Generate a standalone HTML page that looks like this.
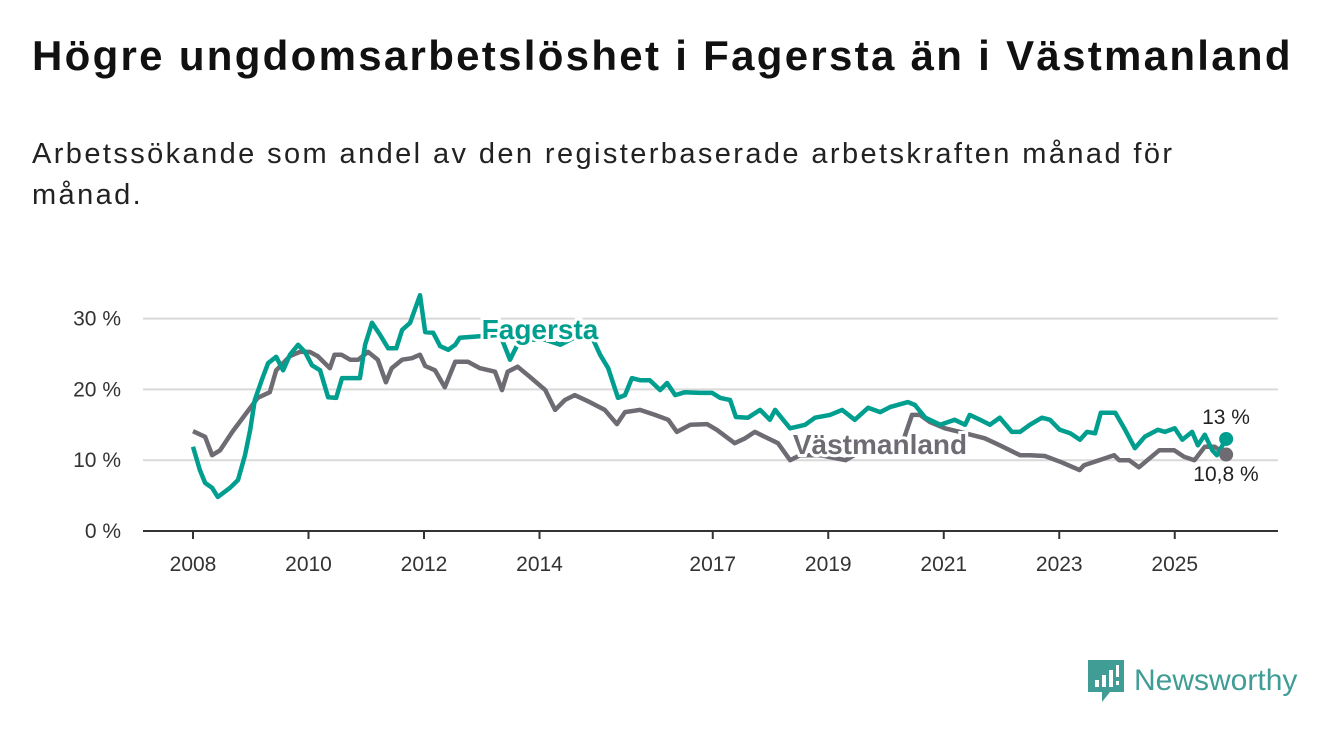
<!DOCTYPE html>
<html><head><meta charset="utf-8">
<style>
body{margin:0;width:1340px;height:734px;background:#fff;font-family:"Liberation Sans",sans-serif;overflow:hidden;position:relative}
h1{position:absolute;left:32px;top:32px;margin:0;font-size:42px;letter-spacing:2.3px;font-weight:bold;color:#111;white-space:nowrap}
p.sub{position:absolute;left:32px;top:134px;margin:0;font-size:29px;letter-spacing:2.4px;line-height:41px;color:#222;width:1200px}
svg{position:absolute;left:0;top:0}
.logo{position:absolute;left:1088px;top:660px;display:flex;align-items:center}
.logo span{font-size:30px;color:#3f9d95;margin-left:10px}
</style></head><body>
<h1>Högre ungdomsarbetslöshet i Fagersta än i Västmanland</h1>
<p class="sub">Arbetssökande som andel av den registerbaserade arbetskraften månad för månad.</p>
<svg id="chart" width="1340" height="734"></svg>
<div class="logo">
<svg width="36" height="42" style="position:static"><path d="M0 0H36V32H22L14 42V32H0Z" fill="#3f9d95"/><rect x="7" y="20" width="4" height="7" fill="#fff"/><rect x="14" y="15" width="4" height="12" fill="#fff"/><rect x="21" y="10" width="4" height="17" fill="#fff"/><rect x="28" y="5" width="3" height="12" fill="#fff"/><rect x="28" y="21" width="3" height="4" fill="#fff"/></svg>
<span>Newsworthy</span></div>
<script>
const yTicks=[0,10,20,30];
const xTicks=[2008,2010,2012,2014,2017,2019,2021,2023,2025];
const fagYears=[2008.00,2008.12,2008.21,2008.33,2008.43,2008.64,2008.78,2008.90,2008.99,2009.07,2009.19,2009.30,2009.44,2009.56,2009.68,2009.82,2009.94,2010.06,2010.20,2010.34,2010.48,2010.58,2010.72,2010.89,2010.98,2011.10,2011.24,2011.38,2011.52,2011.62,2011.76,2011.93,2012.02,2012.16,2012.28,2012.42,2012.54,2012.62,2012.97,2013.32,2013.49,2013.66,2014.10,2014.36,2014.70,2014.87,2015.05,2015.19,2015.36,2015.48,2015.60,2015.74,2015.91,2016.09,2016.21,2016.35,2016.52,2016.78,2016.99,2017.13,2017.30,2017.40,2017.61,2017.82,2017.99,2018.08,2018.34,2018.60,2018.77,2019.03,2019.24,2019.46,2019.69,2019.90,2020.07,2020.38,2020.50,2020.68,2020.94,2021.19,2021.37,2021.45,2021.63,2021.80,2021.97,2022.18,2022.32,2022.49,2022.70,2022.84,2023.01,2023.19,2023.36,2023.48,2023.62,2023.72,2023.97,2024.14,2024.31,2024.48,2024.71,2024.83,2025.00,2025.13,2025.30,2025.40,2025.52,2025.65,2025.73,2025.89];
const fagValues=[11.9,8.6,6.8,6.1,4.8,6.1,7.2,10.7,14.3,18.5,21.3,23.7,24.6,22.7,24.9,26.3,25.3,23.4,22.7,18.9,18.8,21.6,21.6,21.6,26.3,29.4,27.7,25.8,25.8,28.4,29.4,33.3,28.1,28.0,26.1,25.6,26.3,27.3,27.5,27.7,24.2,27.0,27.0,26.3,27.7,28.1,24.9,23.0,18.8,19.2,21.6,21.3,21.3,19.9,20.9,19.2,19.6,19.5,19.5,18.8,18.5,16.1,16.0,17.1,15.7,17.1,14.5,15.0,16.0,16.4,17.1,15.7,17.4,16.8,17.5,18.2,17.8,16.0,15.0,15.7,15.0,16.4,15.7,15.0,16.0,14.0,14.0,15.0,16.0,15.7,14.3,13.8,12.9,14.0,13.8,16.7,16.7,14.3,11.7,13.3,14.3,14.0,14.5,12.9,14.0,12.1,13.6,11.4,10.7,13.0];
const vasYears=[2008.00,2008.21,2008.33,2008.47,2008.68,2008.90,2009.12,2009.33,2009.44,2009.68,2009.85,2010.02,2010.16,2010.37,2010.45,2010.57,2010.72,2010.86,2011.03,2011.20,2011.34,2011.44,2011.62,2011.79,2011.93,2012.02,2012.19,2012.36,2012.54,2012.76,2012.97,2013.23,2013.35,2013.45,2013.62,2013.83,2014.10,2014.27,2014.44,2014.61,2014.87,2015.13,2015.34,2015.48,2015.74,2016.00,2016.23,2016.38,2016.61,2016.90,2017.07,2017.38,2017.56,2017.73,2017.90,2018.13,2018.34,2018.51,2018.86,2019.30,2019.55,2020.24,2020.45,2020.59,2020.76,2021.02,2021.28,2021.71,2021.97,2022.32,2022.49,2022.75,2023.04,2023.35,2023.43,2023.69,2023.95,2024.04,2024.21,2024.38,2024.73,2024.99,2025.16,2025.34,2025.52,2025.69,2025.89];
const vasValues=[14.1,13.3,10.7,11.4,14.0,16.4,18.8,19.6,22.7,24.7,25.3,25.3,24.7,23.0,24.9,24.9,24.2,24.2,25.3,24.2,21.0,23.0,24.2,24.4,24.9,23.3,22.7,20.3,23.9,23.9,23.0,22.5,19.9,22.5,23.2,21.8,19.9,17.1,18.5,19.2,18.2,17.1,15.1,16.8,17.1,16.4,15.7,14.0,15.0,15.1,14.3,12.4,13.1,14.0,13.3,12.4,10.0,10.7,10.7,10.0,11.2,11.4,16.4,16.4,15.4,14.5,14.0,13.1,12.1,10.7,10.7,10.6,9.7,8.6,9.3,10.0,10.7,10.0,10.0,9.0,11.4,11.4,10.5,10.0,11.9,11.9,10.8];
const NS='http://www.w3.org/2000/svg';
const svg=document.getElementById('chart');
const X=y=>193+(y-2008)*57.75;
const Y=v=>531-v*7.08;
function mk(t,a){const e=document.createElementNS(NS,t);for(const k in a)e.setAttribute(k,a[k]);svg.appendChild(e);return e;}
yTicks.forEach(t=>{
  if(t>0){const g=mk('line',{x1:143,x2:1278,y1:Y(t),y2:Y(t),stroke:'#d9d9d9','stroke-width':2});
  
  }
  const l=mk('text',{x:121,y:Y(t)+7,'text-anchor':'end','font-size':21,fill:'#333'});l.textContent=t+' %';
  
  
});
const ax=mk('line',{x1:143,x2:1278,y1:531,y2:531,stroke:'#333','stroke-width':2});


xTicks.forEach(t=>{
  const tk=mk('line',{x1:X(t),x2:X(t),y1:531,y2:539,stroke:'#333','stroke-width':2});
  
  
  const l=mk('text',{x:X(t),y:571,'text-anchor':'middle','font-size':21,fill:'#333'});l.textContent=t;
  
  
});
function path(xs,vs){return xs.map((x,i)=>(i?'L':'M')+X(x).toFixed(1)+' '+Y(vs[i]).toFixed(1)).join(' ');}
const pv=mk('path',{d:path(vasYears,vasValues),fill:'none',stroke:'#6e6b73','stroke-width':4.5,'stroke-linejoin':'round'});


const pf=mk('path',{d:path(fagYears,fagValues),fill:'none',stroke:'#009e8f','stroke-width':4.5,'stroke-linejoin':'round'});


const lv=vasYears.length-1, lf=fagYears.length-1;
const dv=mk('circle',{cx:X(vasYears[lv]),cy:Y(vasValues[lv]),r:7,fill:'#6e6b73'});


const df=mk('circle',{cx:X(fagYears[lf]),cy:Y(fagValues[lf]),r:7,fill:'#009e8f'});


function lab(x,y,txt,col,sz,w,name){
  const t=mk('text',{x:x,y:y,'font-size':sz,'font-weight':w,fill:col,stroke:'#fff','stroke-width':6,'paint-order':'stroke','text-anchor':'middle'});
  t.textContent=txt;
  
  
}
lab(540,339,'Fagersta','#009e8f',28,'bold','fagersta-label');
lab(880,454,'Västmanland','#6e6b73',28,'bold','vastmanland-label');
lab(1226,424,'13 %','#222',21,'normal','fagersta-end-value');
lab(1226,481,'10,8 %','#222',21,'normal','vastmanland-end-value');
</script>
</body></html>
